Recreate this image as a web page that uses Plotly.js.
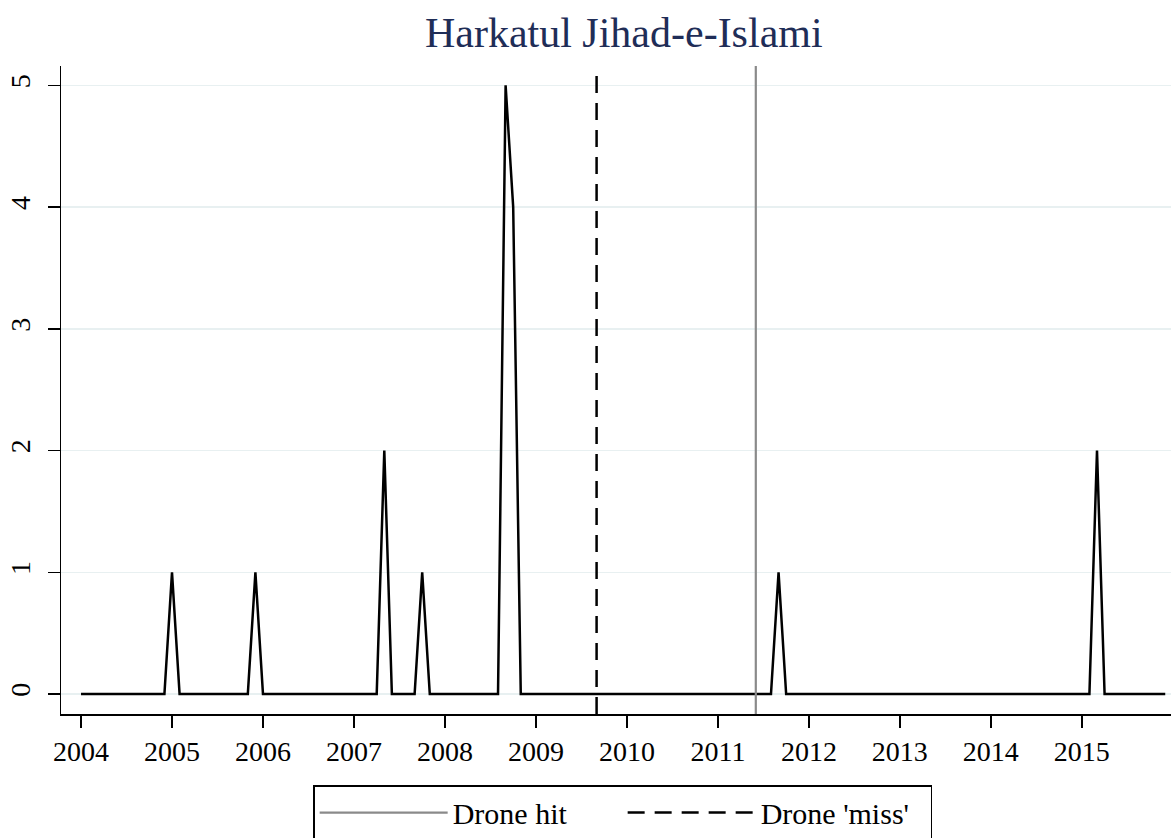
<!DOCTYPE html>
<html>
<head>
<meta charset="utf-8">
<script src="https://cdn.plot.ly/plotly-3.0.1.min.js"></script>
<style>
  html, body { margin: 0; padding: 0; background: #ffffff; }
  #chart { width: 1172px; height: 838px; }
</style>
</head>
<body>
<div id="chart"></div>
<script>
// ---- data ----
const chartTitle = "Harkatul Jihad-e-Islami";
const startYear = 2004;
const years = [2004, 2005, 2006, 2007, 2008, 2009, 2010, 2011, 2012, 2013, 2014, 2015];
// monthly attack counts, one row per year (Jan..Dec)
const attacks = [
  0,0,0,0,0,0,0,0,0,0,0,0,   // 2004
  1,0,0,0,0,0,0,0,0,0,0,1,   // 2005
  0,0,0,0,0,0,0,0,0,0,0,0,   // 2006
  0,0,0,0,2,0,0,0,0,1,0,0,   // 2007
  0,0,0,0,0,0,0,0,5,4,0,0,   // 2008
  0,0,0,0,0,0,0,0,0,0,0,0,   // 2009
  0,0,0,0,0,0,0,0,0,0,0,0,   // 2010
  0,0,0,0,0,0,0,0,1,0,0,0,   // 2011
  0,0,0,0,0,0,0,0,0,0,0,0,   // 2012
  0,0,0,0,0,0,0,0,0,0,0,0,   // 2013
  0,0,0,0,0,0,0,0,0,0,0,0,   // 2014
  0,0,2,0,0,0,0,0,0,0,0,0    // 2015
];
const droneHit = [2011, 6];   // year, month
const droneMiss = [2009, 9];  // year, month
const legendNames = ["Drone hit", "Drone 'miss'"];
const yTicks = [0, 1, 2, 3, 4, 5];

// ---- build ----
const toDec = (y, m) => y + (m - 1) / 12;
const xMonths = attacks.map((_, i) => toDec(startYear + Math.floor(i / 12), (i % 12) + 1));

const FONT = "Liberation Serif, Times New Roman, serif";

const traces = [{
  type: "scatter",
  mode: "lines",
  x: xMonths,
  y: attacks,
  line: { color: "#000000", width: 2.5 },
  showlegend: false,
  hoverinfo: "x+y"
}];

const shapes = [
  {
    type: "line", xref: "x", yref: "paper",
    x0: toDec(droneHit[0], droneHit[1]), x1: toDec(droneHit[0], droneHit[1]),
    y0: 0, y1: 1,
    line: { color: "#8a8a8a", width: 2.2 },
    showlegend: true, name: legendNames[0]
  },
  {
    type: "line", xref: "x", yref: "paper",
    x0: toDec(droneMiss[0], droneMiss[1]), x1: toDec(droneMiss[0], droneMiss[1]),
    y0: 0, y1: 1,
    line: { color: "#000000", width: 2.5, dash: "17px,10px" },
    showlegend: true, name: legendNames[1]
  }
];

const layout = {
  width: 1172, height: 838,
  paper_bgcolor: "#ffffff", plot_bgcolor: "#ffffff",
  margin: { l: 61, r: 1, t: 66, b: 124, pad: 0 },
  font: { family: FONT, size: 28, color: "#000000" },
  title: {
    text: chartTitle,
    font: { family: FONT, size: 42, color: "#1f2d57" },
    x: 0.507, xref: "paper", xanchor: "center",
    y: 0.962, yref: "container", yanchor: "middle"
  },
  xaxis: {
    range: [2003.78, 2015.98],
    tickvals: years, ticktext: years.map(String),
    showgrid: false, zeroline: false,
    showline: true, linecolor: "#000000", linewidth: 1.5,
    ticks: "outside", ticklen: 12, tickwidth: 1.5, tickcolor: "#000000",
    tickfont: { family: FONT, size: 28, color: "#000000" }
  },
  yaxis: {
    range: [-0.164, 5.159],
    tickvals: yTicks, ticktext: yTicks.map(String),
    tickangle: -90,
    ticklabelstandoff: 6,
    showgrid: true, gridcolor: "#e8f0f1", gridwidth: 1.5,
    zeroline: false,
    showline: true, linecolor: "#000000", linewidth: 1.5,
    ticks: "outside", ticklen: 12, tickwidth: 1.5, tickcolor: "#000000",
    tickfont: { family: FONT, size: 28, color: "#000000" }
  },
  shapes: shapes,
  legend: {
    orientation: "h",
    x: 0.506, xanchor: "center",
    xref: "paper",
    y: 0.0632, yanchor: "top", yref: "container",
    bordercolor: "#000000", borderwidth: 1.5,
    bgcolor: "#ffffff",
    font: { family: FONT, size: 30, color: "#000000" },
    itemwidth: 128,
    entrywidth: 165
  },
  showlegend: true
};

Plotly.newPlot("chart", traces, layout, { displayModeBar: false, staticPlot: true });
</script>
</body>
</html>
